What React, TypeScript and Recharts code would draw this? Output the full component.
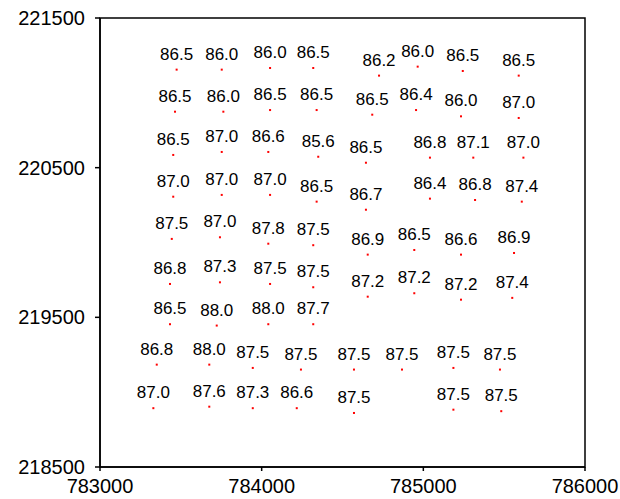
import { ScatterChart, Scatter, XAxis, YAxis, ReferenceArea } from 'recharts';

// easting / northing of each sample point, and the value printed above it
const eastings = [
  783474, 783753, 784052, 784319, 784726, 784965, 785244, 785590,
  783464, 783763, 784052, 784340, 784684, 784955, 785233, 785590,
  783453, 783753, 784041, 784350, 784645, 785041, 785309, 785619,
  783453, 783753, 784052, 784340, 784645, 785041, 785320, 785609,
  783444, 783742, 784041, 784319, 784656, 784944, 785233, 785561,
  783433, 783742, 784052, 784319, 784656, 784944, 785233, 785550,
  783433, 783722, 784041, 784319,
  783351, 783676, 783945, 784243, 784571, 784868, 785186, 785474,
  783330, 783676, 783945, 784217, 784571, 785186, 785482,
];
const northings = [
  221155, 221155, 221166, 221166, 221115, 221175, 221146, 221115,
  220874, 220874, 220885, 220885, 220854, 220885, 220843, 220832,
  220585, 220605, 220605, 220573, 220533, 220567, 220567, 220567,
  220306, 220318, 220318, 220273, 220219, 220293, 220284, 220273,
  220024, 220035, 219992, 219982, 219919, 219950, 219919, 219930,
  219723, 219734, 219723, 219701, 219638, 219661, 219618, 219630,
  219454, 219445, 219454, 219454,
  219184, 219184, 219162, 219151, 219151, 219151, 219162, 219151,
  218893, 218903, 218893, 218893, 218861, 218883, 218873,
];
const values = [
  86.5, 86.0, 86.0, 86.5, 86.2, 86.0, 86.5, 86.5,
  86.5, 86.0, 86.5, 86.5, 86.5, 86.4, 86.0, 87.0,
  86.5, 87.0, 86.6, 85.6, 86.5, 86.8, 87.1, 87.0,
  87.0, 87.0, 87.0, 86.5, 86.7, 86.4, 86.8, 87.4,
  87.5, 87.0, 87.8, 87.5, 86.9, 86.5, 86.6, 86.9,
  86.8, 87.3, 87.5, 87.5, 87.2, 87.2, 87.2, 87.4,
  86.5, 88.0, 88.0, 87.7,
  86.8, 88.0, 87.5, 87.5, 87.5, 87.5, 87.5, 87.5,
  87.0, 87.6, 87.3, 86.6, 87.5, 87.5, 87.5,
];

const xTicks = [783000, 784000, 785000, 786000];
const yTicks = [218500, 219500, 220500, 221500];

const FONT = 'Arial, "Liberation Sans", sans-serif';

const data = values.map((v, i) => ({ x: eastings[i], y: northings[i], v }));

const Marker = (props: any) => {
  const { cx, cy, payload } = props;
  return (
    <g>
      <rect x={cx - 1} y={cy - 1} width={2} height={2} fill="#ff0000" />
      <text x={cx} y={cy - 10} textAnchor="middle" fontSize={17} fontFamily={FONT} fill="#000">
        {payload.v.toFixed(1)}
      </text>
    </g>
  );
};

export default function App() {
  return (
    <div style={{ position: 'absolute', left: 0, top: 0, background: '#fff' }}>
      <ScatterChart width={620} height={499} margin={{ top: 18, right: 35, bottom: 0, left: 0 }}>
        <XAxis
          type="number"
          dataKey="x"
          domain={[783000, 786000]}
          ticks={xTicks}
          height={32}
          tickSize={4}
          tickMargin={8}
          stroke="#000"
          strokeWidth={1.5}
          tick={{ fill: '#000', fontSize: 20, fontFamily: FONT }}
          interval={0}
          allowDataOverflow
        />
        <YAxis
          type="number"
          dataKey="y"
          domain={[218500, 221500]}
          ticks={yTicks}
          width={100}
          tickSize={5}
          tickMargin={10}
          stroke="#000"
          strokeWidth={1.5}
          tick={{ fill: '#000', fontSize: 20, fontFamily: FONT }}
          interval={0}
          allowDataOverflow
        />
        <ReferenceArea
          x1={783000}
          x2={786000}
          y1={218500}
          y2={221500}
          fill="none"
          stroke="#000"
          strokeWidth={1.5}
          fillOpacity={0}
        />
        <Scatter data={data} shape={Marker} isAnimationActive={false} />
      </ScatterChart>
    </div>
  );
}
